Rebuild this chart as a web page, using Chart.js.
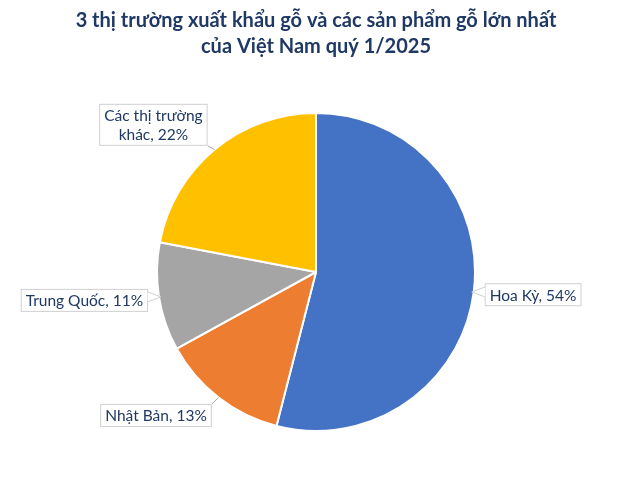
<!DOCTYPE html>
<html>
<head>
<meta charset="utf-8">
<script src="https://cdn.jsdelivr.net/npm/chart.js@4/dist/chart.umd.min.js"></script>
<style>
    body { margin: 0; background: #fff; }
    #wrap { width: 640px; height: 482px; position: relative; }
</style>
</head>
<body>
<div id="wrap"><canvas id="chart"></canvas></div>
<script>
// --- Data ---
const titleLines = ['3 thị trường xuất khẩu gỗ và các sản phẩm gỗ lớn nhất', 'của Việt Nam quý 1/2025'];
const markets = ['Hoa Kỳ', 'Nhật Bản', 'Trung Quốc', 'Các thị trường khác'];
const shares = [54, 13, 11, 22];
const sliceColors = ['#4472C4', '#ED7D31', '#A5A5A5', '#FFC000'];

const textColor = '#1F3864';
const boxBorder = '#D0D0D0';
const labelFont = '15.5px Lato';

// split a label into lines no wider than maxW
const wrapText = (ctx, text, maxW) => {
    const words = text.split(' ');
    const lines = [];
    let cur = '';
    words.forEach(w => {
        const test = cur ? cur + ' ' + w : w;
        if (cur && ctx.measureText(test).width > maxW) {
            lines.push(cur);
            cur = w;
        } else {
            cur = test;
        }
    });
    if (cur) lines.push(cur);
    return lines;
};

// --- Callout labels drawn next to each slice ---
const calloutLabels = {
    id: 'calloutLabels',
    afterDatasetsDraw(chart) {
        const ctx = chart.ctx;
        const meta = chart.getDatasetMeta(0);
        ctx.save();
        ctx.font = labelFont;
        meta.data.forEach((arc, i) => {
            const { x, y, outerRadius, startAngle, endAngle } =
                arc.getProps(['x', 'y', 'outerRadius', 'startAngle', 'endAngle'], true);
            const mid = (startAngle + endAngle) / 2;
            const dx = Math.cos(mid), dy = Math.sin(mid);
            const ex = x + dx * outerRadius, ey = y + dy * outerRadius;
            const ax = x + dx * (outerRadius + 11), ay = y + dy * (outerRadius + 11);

            const lines = wrapText(ctx, `${markets[i]}, ${shares[i]}%`, 122);
            const lineH = 19, padX = 5, padY = 2;
            const w = Math.max(...lines.map(l => ctx.measureText(l).width)) + padX * 2;
            const h = lines.length * lineH + padY * 2;
            const left = dx > 0 ? ax : ax - w;
            const top = ay + dy * h / 2 - h / 2;

            // nearest point on the box to the slice edge
            const nx = Math.min(Math.max(ex, left), left + w);
            const ny = Math.min(Math.max(ey, top), top + h);
            const dist = Math.hypot(ex - nx, ey - ny);
            const pointer = dist < 14 && Math.abs(dy) <= 0.5;

            ctx.lineWidth = 1;
            if (!pointer) {
                ctx.beginPath();
                ctx.moveTo(ex, ey);
                ctx.lineTo(nx, ny);
                ctx.strokeStyle = '#A6A6A6';
                ctx.stroke();
            }

            ctx.strokeStyle = boxBorder;
            ctx.fillStyle = '#fff';
            ctx.fillRect(left, top, w, h);
            ctx.strokeRect(left + 0.5, top + 0.5, w - 1, h - 1);

            // small pointer for labels sitting right next to the slice
            if (pointer) {
                const sideX = dx > 0 ? left + 0.5 : left + w - 0.5;
                const cy = Math.min(Math.max(ey, top + 6), top + h - 6);
                const tipX = ex - dx * 2, tipY = ey;
                ctx.beginPath();
                ctx.moveTo(sideX, cy - 5);
                ctx.lineTo(tipX, tipY);
                ctx.lineTo(sideX, cy + 5);
                ctx.closePath();
                ctx.fill();
                ctx.beginPath();
                ctx.moveTo(sideX, cy - 5);
                ctx.lineTo(tipX, tipY);
                ctx.lineTo(sideX, cy + 5);
                ctx.stroke();
            }

            ctx.fillStyle = textColor;
            ctx.textAlign = 'center';
            ctx.textBaseline = 'middle';
            lines.forEach((l, k) => {
                ctx.fillText(l, left + w / 2, top + padY + lineH * k + lineH / 2 + 1);
            });
        });
        ctx.restore();
    }
};

new Chart(document.getElementById('chart'), {
    type: 'pie',
    data: {
        labels: markets,
        datasets: [{
            data: shares,
            backgroundColor: sliceColors,
            borderColor: '#ffffff',
            borderWidth: 2,
            hoverOffset: 0
        }]
    },
    options: {
        responsive: true,
        maintainAspectRatio: false,
        animation: false,
        layout: { padding: { left: 0, right: 8, top: 0, bottom: 50 } },
        plugins: {
            legend: { display: false },
            tooltip: { enabled: false },
            title: {
                display: true,
                text: titleLines,
                color: textColor,
                font: { family: 'Lato', size: 20, weight: 'bold', lineHeight: 1.3 },
                padding: { top: 8, bottom: 52 }
            }
        }
    },
    plugins: [calloutLabels]
});
</script>
</body>
</html>
